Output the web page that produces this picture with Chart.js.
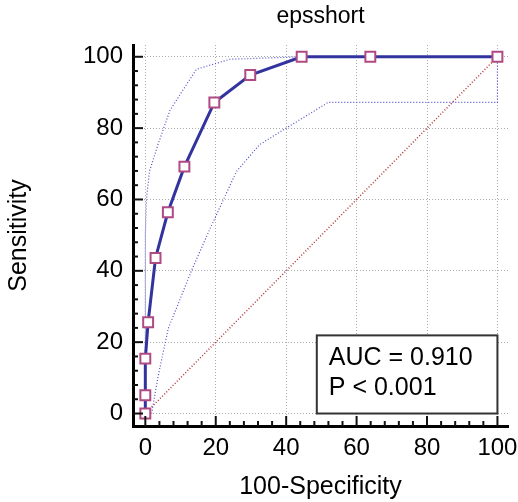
<!DOCTYPE html>
<html>
<head>
<meta charset="utf-8">
<script src="https://cdn.jsdelivr.net/npm/chart.js@4"></script>
<style>
  body { margin: 0; background: #fff; }
</style>
</head>
<body>
<canvas id="roc" width="518" height="502"></canvas>
<script>
// ROC curve points (100-Specificity, Sensitivity)
const rocX = [0, 0, 0, 0.8, 2.9, 6.4, 11.1, 19.6, 29.8, 44.4, 63.9, 100];
const rocY = [0, 5.1, 15.4, 25.6, 43.6, 56.4, 69.2, 87.2, 94.9, 100, 100, 100];

// confidence bounds
const upperX = [0, 0, 0.3, 1.2, 3.6, 7.0, 14.5, 24.0, 44.4, 100];
const upperY = [0, 50, 60, 68, 75.4, 85, 96.5, 99.3, 100, 100];
const lowerX = [1.8, 3.6, 6.5, 13.1, 18.1, 25.9, 32.5, 40.0, 43.8, 51.9, 100, 100];
const lowerY = [0, 10.3, 23.8, 40.0, 51.2, 67.9, 75.4, 80.0, 82.3, 87.2, 87.2, 100];

// reference diagonal
const diagX = [0, 100];
const diagY = [0, 100];

const xTicks = [0, 20, 40, 60, 80, 100];
const yTicks = [0, 20, 40, 60, 80, 100];

const aucText = ['AUC = 0.910', 'P < 0.001'];

const FONT = '"Liberation Sans", Arial, Helvetica, sans-serif';

function pts(xs, ys) {
    return xs.map((x, i) => ({ x: x, y: ys[i] }));
}

// inward tick marks, minor every 4, major every 20
const axisTicks = {
    id: 'axisTicks',
    afterDraw(chart) {
        const ctx = chart.ctx;
        const xs = chart.scales.x, ys = chart.scales.y;
        const area = chart.chartArea;
        ctx.save();
        ctx.strokeStyle = '#111';
        ctx.lineWidth = 2;
        for (let v = 0; v <= 100; v += 4) {
            const len = v % 20 === 0 ? 10 : 5;
            const px = xs.getPixelForValue(v);
            ctx.beginPath();
            ctx.moveTo(px, area.bottom);
            ctx.lineTo(px, area.bottom - len);
            ctx.stroke();
            const py = ys.getPixelForValue(v);
            ctx.beginPath();
            ctx.moveTo(area.left, py);
            ctx.lineTo(area.left + len, py);
            ctx.stroke();
        }
        ctx.restore();
    }
};

// AUC box in the lower right corner
const aucBox = {
    id: 'aucBox',
    afterDraw(chart) {
        const ctx = chart.ctx;
        const xs = chart.scales.x, ys = chart.scales.y;
        const l = xs.getPixelForValue(48.7), r = xs.getPixelForValue(100);
        const t = ys.getPixelForValue(21.9), b = ys.getPixelForValue(0);
        ctx.save();
        ctx.fillStyle = '#fff';
        ctx.fillRect(l, t, r - l, b - t);
        ctx.strokeStyle = '#333';
        ctx.lineWidth = 2;
        ctx.strokeRect(l, t, r - l, b - t);
        ctx.fillStyle = '#000';
        ctx.font = '25px ' + FONT;
        ctx.textBaseline = 'middle';
        ctx.fillText(aucText[0], l + 12, t + 23);
        ctx.fillText(aucText[1], l + 12, t + 53);
        ctx.restore();
    }
};

const dotted = [1, 2];

new Chart(document.getElementById('roc'), {
    type: 'scatter',
    data: {
        datasets: [
            {
                label: 'ROC',
                data: pts(rocX, rocY),
                showLine: true,
                borderColor: '#33339f',
                borderWidth: 3,
                pointStyle: 'rect',
                pointRadius: 7,
                pointBorderColor: '#b04a82',
                pointBackgroundColor: '#fff',
                pointBorderWidth: 2,
                order: 0
            },
            {
                label: 'upper',
                data: pts(upperX, upperY),
                showLine: true,
                borderColor: '#4e4ec8',
                borderWidth: 1.2,
                borderDash: dotted,
                pointRadius: 0,
                order: 1
            },
            {
                label: 'lower',
                data: pts(lowerX, lowerY),
                showLine: true,
                borderColor: '#4e4ec8',
                borderWidth: 1.2,
                borderDash: dotted,
                pointRadius: 0,
                order: 1
            },
            {
                label: 'diagonal',
                data: pts(diagX, diagY),
                showLine: true,
                borderColor: '#b03535',
                borderWidth: 1.5,
                borderDash: dotted,
                pointRadius: 0,
                order: 2
            }
        ]
    },
    options: {
        responsive: false,
        animation: false,
        layout: { padding: { left: 0, right: 10, top: 0, bottom: 0 } },
        plugins: {
            legend: { display: false },
            tooltip: { enabled: false },
            title: {
                display: true,
                fullSize: false,
                text: 'epsshort',
                color: '#000',
                font: { family: FONT, size: 23, weight: 'normal', lineHeight: 1.2 },
                padding: { top: 3, bottom: 14.4 }
            }
        },
        scales: {
            x: {
                type: 'linear',
                min: -3.5,
                max: 103,
                afterBuildTicks: s => { s.ticks = xTicks.map(v => ({ value: v })); },
                afterFit: s => { s.height = 76; s.paddingLeft = 0; s.paddingRight = 0; },
                grid: { color: '#aaa', lineWidth: 1, drawTicks: false },
                border: { display: true, color: '#000', width: 3, dash: dotted },
                ticks: {
                    color: '#000',
                    font: { family: FONT, size: 24 },
                    padding: 8,
                    maxRotation: 0,
                    autoSkip: false
                },
                title: {
                    display: true,
                    text: '100-Specificity',
                    color: '#000',
                    font: { family: FONT, size: 25, lineHeight: 1.2 },
                    padding: 0
                }
            },
            y: {
                type: 'linear',
                min: -3.5,
                max: 103.3,
                afterBuildTicks: s => { s.ticks = yTicks.map(v => ({ value: v })); },
                afterFit: s => { s.width = 133; s.paddingTop = 0; s.paddingBottom = 0; },
                grid: { color: '#aaa', lineWidth: 1, drawTicks: false },
                border: { display: true, color: '#000', width: 3, dash: dotted },
                ticks: {
                    color: '#000',
                    font: { family: FONT, size: 24 },
                    padding: 10,
                    autoSkip: false
                },
                title: {
                    display: true,
                    text: 'Sensitivity',
                    color: '#000',
                    font: { family: FONT, size: 25, lineHeight: 1.2 },
                    padding: { top: 4, bottom: 0 }
                }
            }
        }
    },
    plugins: [axisTicks, aucBox]
});
</script>
</body>
</html>
